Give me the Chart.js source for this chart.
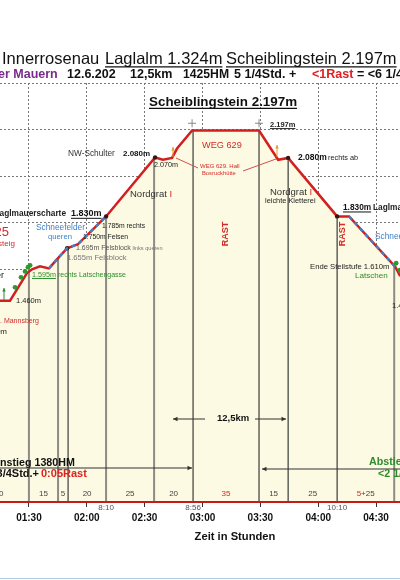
<!DOCTYPE html>
<html>
<head>
<meta charset="utf-8">
<title>Scheiblingstein 2.197m</title>
<script src="https://cdn.jsdelivr.net/npm/chart.js@4.4.0/dist/chart.umd.min.js"></script>
<style>
  html, body { margin: 0; padding: 0; background: #fff; }
  canvas { display: block; }
</style>
</head>
<body>
<canvas id="chart" width="400" height="580"></canvas>
<script>
const FONT = 'Arial, "Liberation Sans", Helvetica, sans-serif';

// profile: minutes since 0:00 of walking clock, height in m
const timeMin = [75, 80.2, 88.9, 91.6, 95.7, 100.4, 105, 109.8, 115.5, 130, 155.4, 159.5, 164.2, 166.8, 174.6, 209.3, 219.2, 224.4, 249.8, 256, 279.9, 282.5];
const heightM = [1470, 1470, 1587, 1604, 1617, 1608, 1651, 1694, 1712, 1830, 2082, 2072, 2080, 2120, 2197, 2197, 2072, 2080, 1830, 1830, 1615, 1575];
const dotIdx = [7, 9, 10, 17, 18];          // marked points on the profile
const snowRanges = [[5, 9], [19, 20]];      // Schneefelder parts (index ranges)

// Latschen (green) and summit crosses
const greenT = [82.8, 85.9, 88.0, 89.5, 90.6, 280.4, 282.3];
const greenE = [1527, 1570, 1595, 1613, 1621, 1630, 1600];
const summitT = [174.6, 209.3];
const summitE = [2228, 2228];

// stops: vertical lines from profile down to the axis
const stopT = [90, 105.1, 110.3, 130, 154.9, 175.1, 209.3, 224.4, 249.8, 279.4];
const stopE = [1615, 1652, 1696, 1830, 2080, 2197, 2197, 2080, 1830, 1620];
const stopType = ['w', 'w', 'k', 'w', 'w', 'k', 'k', 'k', 'k', 'w'];

// minutes per section (walk / rest), first section starts before the visible part
const sectionStart = 59;
const walkMin = [20, 15, 5, 20, 25, 20, 0, 15, 25, 25];
const restMin = [0, 0, 0, 0, 0, 0, 35, 0, 0, 5];

// clock times written under the axis
const clockT = [130, 175.1, 249.8];
const clockLbl = ['8:10', '8:56', '10:10'];

const X_MIN = 75, X_MAX = 282.4, Y_MIN = 610, Y_MAX = 2400;

function hhmm(v) {
  const h = Math.floor(v / 60), m = Math.round(v % 60);
  return String(h).padStart(2, '0') + ':' + String(m).padStart(2, '0');
}

function put(ctx, s, x, y, size, color, opt = {}) {
  ctx.save();
  ctx.font = (opt.bold ? 'bold ' : '') + size + 'px ' + FONT;
  ctx.fillStyle = color;
  ctx.textAlign = opt.align || 'left';
  ctx.textBaseline = 'middle';
  ctx.fillText(s, x, y);
  const w = ctx.measureText(s).width;
  if (opt.ul) {
    let x0 = x;
    if (opt.align === 'right') x0 = x - w;
    else if (opt.align === 'center') x0 = x - w / 2;
    ctx.strokeStyle = color;
    ctx.lineWidth = Math.max(1, size / 12);
    ctx.beginPath();
    ctx.moveTo(x0, y + size * 0.48);
    ctx.lineTo(x0 + w, y + size * 0.48);
    ctx.stroke();
  }
  ctx.restore();
  return w;
}

function width(ctx, s, size, bold) {
  ctx.save();
  ctx.font = (bold ? 'bold ' : '') + size + 'px ' + FONT;
  const w = ctx.measureText(s).width;
  ctx.restore();
  return w;
}

function line(ctx, x1, y1, x2, y2, color, lw) {
  ctx.save();
  ctx.strokeStyle = color;
  ctx.lineWidth = lw || 1;
  ctx.beginPath();
  ctx.moveTo(x1, y1);
  ctx.lineTo(x2, y2);
  ctx.stroke();
  ctx.restore();
}

function arrow(ctx, x1, y1, x2, y2, color, head) {
  line(ctx, x1, y1, x2, y2, color, 1);
  const a = Math.atan2(y2 - y1, x2 - x1), h = head || 5;
  ctx.save();
  ctx.fillStyle = color;
  ctx.beginPath();
  ctx.moveTo(x2, y2);
  ctx.lineTo(x2 - h * Math.cos(a - 0.45), y2 - h * Math.sin(a - 0.45));
  ctx.lineTo(x2 - h * Math.cos(a + 0.45), y2 - h * Math.sin(a + 0.45));
  ctx.closePath();
  ctx.fill();
  ctx.restore();
}

// datasets built from the arrays
const profile = timeMin.map((t, i) => ({ x: t, y: heightM[i] }));

const snow = [];
snowRanges.forEach(([a, b]) => {
  for (let i = a; i <= b; i++) snow.push({ x: timeMin[i], y: heightM[i] });
  snow.push({ x: timeMin[b], y: null });
});

function stopLines(type) {
  const d = [];
  stopT.forEach((t, i) => {
    if (stopType[i] !== type) return;
    d.push({ x: t, y: Y_MIN }, { x: t, y: stopE[i] }, { x: t, y: null });
  });
  return d;
}

const annotate = {
  id: 'annotate',
  afterDatasetsDraw(chart) {
    const { ctx, chartArea: ca } = chart;
    // red time axis
    line(ctx, 0, ca.bottom, 400, ca.bottom, '#c41c1c', 2);
  },
  afterDraw(chart) {
    const { ctx, chartArea: ca, scales: { x } } = chart;
    const red = '#d42a2a', dark = '#222', grey = '#555', green = '#2e8b2e', blue = '#3f7fc6';

    // header
    put(ctx, 'Innerrosenau', 2, 59, 16.5, '#111');
    put(ctx, 'Laglalm 1.324m', 105, 59, 16.5, '#111', { ul: true });
    put(ctx, 'Scheiblingstein 2.197m', 226, 59, 16.5, '#111', { ul: true });
    put(ctx, 'er Mauern', -2, 75, 12.5, '#7a2a8c', { bold: true });
    put(ctx, '12.6.202', 67, 75, 12.5, '#111', { bold: true });
    put(ctx, '12,5km', 130, 75, 12.5, '#111', { bold: true });
    put(ctx, '1425HM', 183, 75, 12.2, '#111', { bold: true });
    put(ctx, '5 1/4Std. +', 234, 75, 12.5, '#111', { bold: true });
    put(ctx, '<1Rast', 312, 75, 12.5, '#e02020', { bold: true });
    put(ctx, '= <6 1/4', 357, 75, 12.5, '#111', { bold: true });
    put(ctx, 'Scheiblingstein 2.197m', 149, 102, 13.4, '#111', { bold: true, ul: true });

    // left side labels
    put(ctx, '1425', 9, 232, 13, red, { align: 'right' });
    put(ctx, 'Aufsteig', 15, 244, 8, red, { align: 'right' });
    put(ctx, 'Laglmauerscharte', 66, 214, 8.3, dark, { bold: true, align: 'right' });
    put(ctx, '1.830m', 71, 214, 9, '#111', { bold: true, ul: true });
    put(ctx, 'Schneefelder', 36, 228, 8.3, blue);
    put(ctx, 'queren', 48, 237, 7.7, blue);
    put(ctx, '1.785m rechts', 102, 226, 6.8, dark);
    put(ctx, '1.750m Felsen', 83, 237, 6.8, dark);
    let w = put(ctx, '1.695m Felsblock', 76, 248, 7, grey);
    put(ctx, ' links queren', 76 + w, 248, 5.6, '#777');
    put(ctx, '1.655m Felsblock', 67, 258, 7.6, '#777');
    put(ctx, 'Mauer', 4, 276, 9, dark, { align: 'right' });
    w = put(ctx, '1.595m', 32, 275, 7.2, green, { ul: true });
    put(ctx, ' rechts Latschengasse', 32 + w, 275, 7, green);
    put(ctx, '1.460m', 16, 301, 7.5, dark);
    put(ctx, '. Mannsberg', 0, 321, 7, red);
    put(ctx, '1.420m', 7, 332, 8, dark, { align: 'right' });
    arrow(ctx, 4, 300, 4, 288, green, 4);

    // summit area
    put(ctx, 'NW-Schulter', 68, 154, 8.3, '#333');
    put(ctx, '2.080m', 123, 154, 8, '#111', { bold: true });
    put(ctx, '2.070m', 154, 165, 7.2, dark);
    w = put(ctx, 'Nordgrat ', 130, 194, 9.5, '#333');
    put(ctx, 'I', 130 + w, 194, 9.5, red);
    put(ctx, 'WEG 629', 202, 145, 9.2, red);
    put(ctx, 'WEG 629. Hall', 200, 166, 6, red);
    put(ctx, 'Bosruckhütte', 202, 173, 5.8, red);
    line(ctx, 176, 158, 198, 168, '#d05050', 1);
    line(ctx, 243, 171, 276, 159, '#d05050', 1);
    arrow(ctx, 173, 157, 173, 147, '#e89a2c', 4);
    arrow(ctx, 277, 157, 277, 145, '#e89a2c', 4);
    put(ctx, '2.197m', 270, 125, 7.5, '#222', { bold: true, ul: true });
    put(ctx, '2.080m', 298, 158, 8.5, '#111', { bold: true });
    put(ctx, 'rechts ab', 328, 158, 7.3, dark);
    w = put(ctx, 'Nordgrat ', 270, 192, 9.5, '#333');
    put(ctx, 'I', 270 + w, 192, 9.5, red);
    put(ctx, 'leichte Kletterei', 265, 201, 7.4, dark);

    // right side labels
    put(ctx, '1.830m', 343, 208, 8.3, '#111', { bold: true, ul: true });
    put(ctx, 'Laglmauerscharte', 373, 208, 8.3, dark, { bold: true });
    put(ctx, 'Schneefelder', 375, 237, 8.3, blue);
    put(ctx, 'Ende Steilstufe 1.610m', 310, 267, 7.7, dark);
    put(ctx, 'Latschen', 355, 276, 8.1, green);
    put(ctx, '1.460m', 392, 306, 7.5, dark);

    // RAST (vertical)
    [[226, 234], [343, 234]].forEach(([px, py]) => {
      ctx.save();
      ctx.translate(px, py);
      ctx.rotate(-Math.PI / 2);
      put(ctx, 'RAST', 0, 0, 9, red, { bold: true, align: 'center' });
      ctx.restore();
    });

    // distance / totals
    arrow(ctx, 205, 419, 173, 419, '#333', 5);
    put(ctx, '12,5km', 217, 418, 9.5, '#111', { bold: true });
    arrow(ctx, 255, 419, 286, 419, '#333', 5);
    put(ctx, 'Anstieg 1380HM', -7.7, 463, 10.7, '#111', { bold: true });
    arrow(ctx, 0, 468, 192, 468, '#333', 5);
    put(ctx, '3/4Std.+', 39, 474, 11, '#111', { bold: true, align: 'right' });
    put(ctx, '0:05Rast', 41, 474, 11, '#e02020', { bold: true });
    arrow(ctx, 400, 469, 262, 469, '#333', 5);
    put(ctx, 'Abstieg', 369, 462, 10.7, green, { bold: true });
    put(ctx, '<2 1/4Std.', 378, 474, 10.7, green, { bold: true });

    // section minutes above the axis
    const bounds = [sectionStart].concat(stopT);
    walkMin.forEach((wm, i) => {
      const cx = (x.getPixelForValue(bounds[i]) + x.getPixelForValue(bounds[i + 1])) / 2;
      const y = ca.bottom - 8;
      if (restMin[i] && wm) {
        const a = String(restMin[i]), b = '+' + wm;
        const wa = width(ctx, a, 8), wb = width(ctx, b, 8);
        put(ctx, a, cx - (wa + wb) / 2, y, 8, red);
        put(ctx, b, cx - (wa + wb) / 2 + wa, y, 8, '#444');
      } else if (restMin[i]) {
        put(ctx, String(restMin[i]), cx, y, 8, red, { align: 'center' });
      } else {
        put(ctx, String(wm), cx, y, 8, '#444', { align: 'center' });
      }
    });

    // clock times
    clockT.forEach((t, i) => {
      put(ctx, clockLbl[i], x.getPixelForValue(t), ca.bottom + 6, 8, '#555', { align: 'center' });
    });

    put(ctx, 'Zeit in Stunden', 235, 537, 11.2, '#111', { bold: true, align: 'center' });
    line(ctx, 0, 578.5, 400, 578.5, '#b4cbe2', 1);
  }
};

new Chart(document.getElementById('chart').getContext('2d'), {
  type: 'line',
  data: {
    datasets: [
      {
        data: profile,
        borderColor: '#d21f1f',
        borderWidth: 2.5,
        backgroundColor: '#fcfae2',
        fill: 'start',
        tension: 0,
        pointRadius: timeMin.map((t, i) => dotIdx.includes(i) ? 2.2 : 0),
        pointBackgroundColor: '#3a1414',
        pointBorderWidth: 0,
        order: 3
      },
      {
        data: snow,
        borderColor: '#4a7ec2',
        borderWidth: 2.5,
        borderDash: [4, 4],
        fill: false,
        tension: 0,
        pointRadius: 0,
        order: 2
      },
      {
        data: stopLines('w'),
        borderColor: '#8c8c84',
        borderWidth: 2,
        fill: false,
        pointRadius: 0,
        order: 5
      },
      {
        data: stopLines('k'),
        borderColor: '#3c3c3c',
        borderWidth: 1.2,
        fill: false,
        pointRadius: 0,
        order: 4
      },
      {
        data: greenT.map((t, i) => ({ x: t, y: greenE[i] })),
        showLine: false,
        pointRadius: 2.4,
        pointBackgroundColor: '#2e9a2e',
        pointBorderWidth: 0,
        order: 1
      },
      {
        data: summitT.map((t, i) => ({ x: t, y: summitE[i] })),
        showLine: false,
        pointStyle: 'cross',
        pointRadius: 4,
        borderColor: '#888',
        pointBorderWidth: 1,
        order: 1
      }
    ]
  },
  options: {
    responsive: false,
    animation: false,
    layout: { autoPadding: false, padding: { top: 83, bottom: 51, left: 0, right: 0 } },
    plugins: {
      legend: { display: false },
      tooltip: { enabled: false },
      filler: { drawTime: 'beforeDatasetsDraw' }
    },
    scales: {
      x: {
        type: 'linear',
        min: X_MIN,
        max: X_MAX,
        ticks: {
          stepSize: 30,
          includeBounds: false,
          autoSkip: false,
          maxRotation: 0,
          padding: 5,
          color: '#111',
          font: { family: FONT, size: 10, weight: 'bold' },
          callback: v => hhmm(v)
        },
        grid: { color: '#777', lineWidth: 1, tickLength: 5, tickColor: '#333', tickBorderDash: [] },
        border: { display: false, dash: [2, 2] }
      },
      y: {
        min: Y_MIN,
        max: Y_MAX,
        ticks: { display: false, stepSize: 200, includeBounds: false },
        grid: { color: '#777', lineWidth: 1, drawTicks: false },
        border: { display: false, dash: [2, 2] }
      }
    }
  },
  plugins: [annotate]
});
</script>
</body>
</html>
